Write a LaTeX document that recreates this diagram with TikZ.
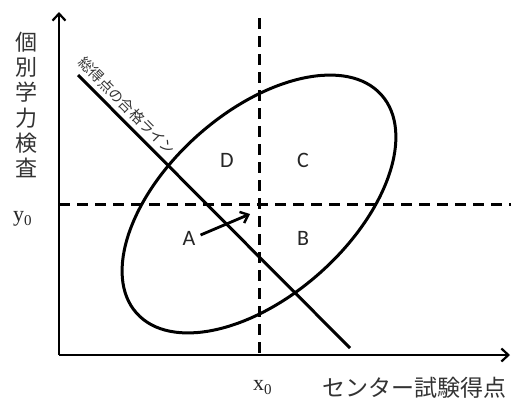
\documentclass[tikz,border=0pt]{standalone}
\usepackage{fontspec}
\setmainfont{Liberation Serif}
\newfontfamily\jp{Noto Sans CJK JP}
\newfontfamily\lat{Carlito}
\usetikzlibrary{arrows.meta}
\begin{document}
\begin{tikzpicture}[x=1pt,y=-1pt,
  axis/.style={line width=2.4pt, -{Straight Barb[length=7pt,width=13pt,line width=2.2pt]}},
  guide/.style={line width=3pt, dash pattern=on 11pt off 7pt},
  curve/.style={line width=3pt},
  quad/.style={font=\lat\fontsize{22}{22}\selectfont, text=black!85, inner sep=0pt},
  jplab/.style={font=\jp\fontsize{22}{25.2}\selectfont, text=black!80, inner sep=0pt},
  diag/.style={font=\jp\fontsize{14.5}{14.5}\selectfont, text=black!80, inner sep=0pt},
  sublab/.style={font=\fontsize{22}{22}\selectfont, text=black!85, inner sep=0pt}]
\useasboundingbox[fill=white] (0,0) rectangle (511,400);
\coordinate (O) at (59,355);
\coordinate (Ytop) at (59,12);
\coordinate (Xend) at (510,355);
\coordinate (Vtop) at (259,18);
\coordinate (Vbot) at (259,355);
\coordinate (Hleft) at (59,204);
\coordinate (Hright) at (511,204);
\coordinate (Lstart) at (78,75);
\coordinate (Lend) at (350,348);
\coordinate (C0) at (259,204);
\coordinate (Atip) at (250,214);
\draw[guide] (Vtop) -- (Vbot);
\draw[guide] (Hleft) -- (Hright);
\draw[axis] (O) -- (Ytop);
\draw[axis] (O) -- (Xend);
\draw[curve] (Lstart) -- (Lend);
\draw[curve, rotate around={41.7:(C0)}] (C0) ellipse [x radius=164pt, y radius=92pt];
\node[quad] (D) at (227,160) {D};
\node[quad] (C) at (303,160) {C};
\node[quad] (A) at (189,238) {A};
\node[quad] (B) at (303,238) {B};
\draw[line width=2.8pt, -{Straight Barb[length=7pt,width=12pt,line width=2.4pt]}] ([xshift=5pt,yshift=3pt]A.east) -- (Atip);
\node[jplab, align=center] (ylab) at (26,105) {個\\別\\学\\力\\検\\査};
\node[jplab, anchor=west, font=\jp\fontsize{23}{23}\selectfont] (xlab) at (322,388) {センター試験得点};
\node[sublab, anchor=base west] (y0) at (13,221) {y\raisebox{-4pt}{\fontsize{15}{15}\selectfont 0}};
\node[sublab, anchor=base west] (x0) at (253,390) {x\raisebox{-4pt}{\fontsize{15}{15}\selectfont 0}};
\node[diag, rotate=-45.1] (lbl) at (127,106) {総得点の合格ライン};
\end{tikzpicture}
\end{document}
